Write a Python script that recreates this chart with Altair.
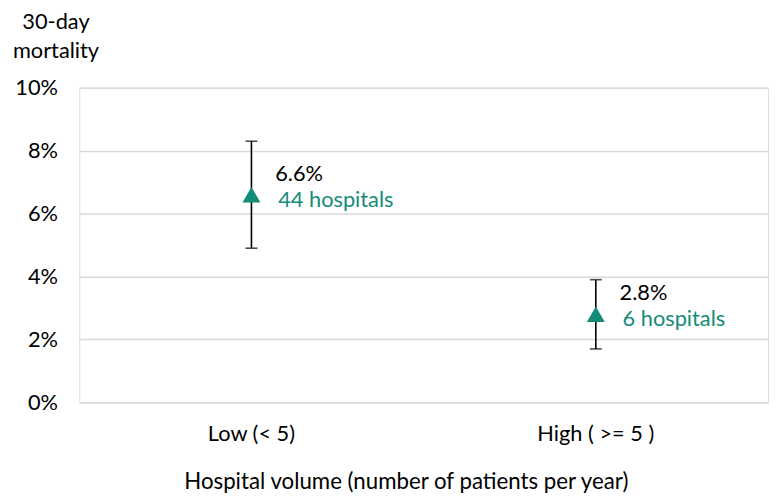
import altair as alt
import pandas as pd

categories = ["Low (< 5)", "High ( >= 5 )"]
mortality = [0.066, 0.028]
lower = [0.049, 0.017]
upper = [0.083, 0.039]
hospitals = [44, 6]

df = pd.DataFrame({
    "cat": categories,
    "m": mortality,
    "lo": lower,
    "hi": upper,
    "hosp": [f"{h} hospitals" for h in hospitals],
})

FONT = "Lato"
FS = 22
TEAL = "#138C7A"

x = alt.X("cat:N", sort=categories,
          scale=alt.Scale(paddingInner=0, paddingOuter=0),
          axis=alt.Axis(title="Hospital volume (number of patients per year)",
                        labelAngle=0, domain=False, ticks=False, grid=False,
                        labelPadding=21, titlePadding=27,
                        titleX=330, titleAnchor="start", titleAlign="center",
                        labelFontSize=FS, titleFontSize=22.5, titleFontWeight="normal",
                        labelColor="#000", titleColor="#000",
                        labelFont=FONT, titleFont=FONT))

yscale = alt.Scale(domain=[0, 0.10])

base = alt.Chart(df)

rule = base.mark_rule(color="#000", strokeWidth=1.6).encode(
    x=x,
    y=alt.Y("lo:Q", scale=yscale,
            axis=alt.Axis(format=".0%", values=[0, 0.02, 0.04, 0.06, 0.08, 0.10],
                          title=["30-day", "mortality"], titleAngle=0,
                          titleAlign="center", titleBaseline="top",
                          titleX=-24, titleY=-77, titleLineHeight=29,
                          domain=False, ticks=False, labelPadding=22,
                          gridColor="#d9d9d9", gridWidth=1.5,
                          labelFontSize=FS, titleFontSize=FS, titleFontWeight="normal",
                          labelColor="#000", titleColor="#000",
                          labelFont=FONT, titleFont=FONT)),
    y2="hi:Q",
)

cap_hi = base.mark_tick(color="#000", orient="horizontal", size=12, thickness=1.6).encode(
    x=x, y=alt.Y("hi:Q", scale=yscale))
cap_lo = base.mark_tick(color="#000", orient="horizontal", size=12, thickness=1.6).encode(
    x=x, y=alt.Y("lo:Q", scale=yscale))

pts = base.mark_point(shape="triangle-up", filled=True, color=TEAL, size=330, opacity=1).encode(
    x=x, y=alt.Y("m:Q", scale=yscale))

pct = base.mark_text(align="left", baseline="middle", dx=24, dy=-21,
                     fontSize=FS, font=FONT, color="#000").encode(
    x=x, y=alt.Y("m:Q", scale=yscale), text=alt.Text("m:Q", format=".1%"))

hosp = base.mark_text(align="left", baseline="middle", dx=27, dy=5,
                      fontSize=FS, font=FONT, color=TEAL).encode(
    x=x, y=alt.Y("m:Q", scale=yscale), text="hosp:N")

chart = alt.layer(rule, cap_hi, cap_lo, pts, pct, hosp).properties(
    width=696, height=318,
    autosize=alt.AutoSizeParams(type="none"),
    padding={"left": 72, "top": 78, "right": 1, "bottom": 90},
).configure_view(stroke=None).configure(background="white")

chart.save("out.html", embed_options={"renderer": "svg", "actions": False})
